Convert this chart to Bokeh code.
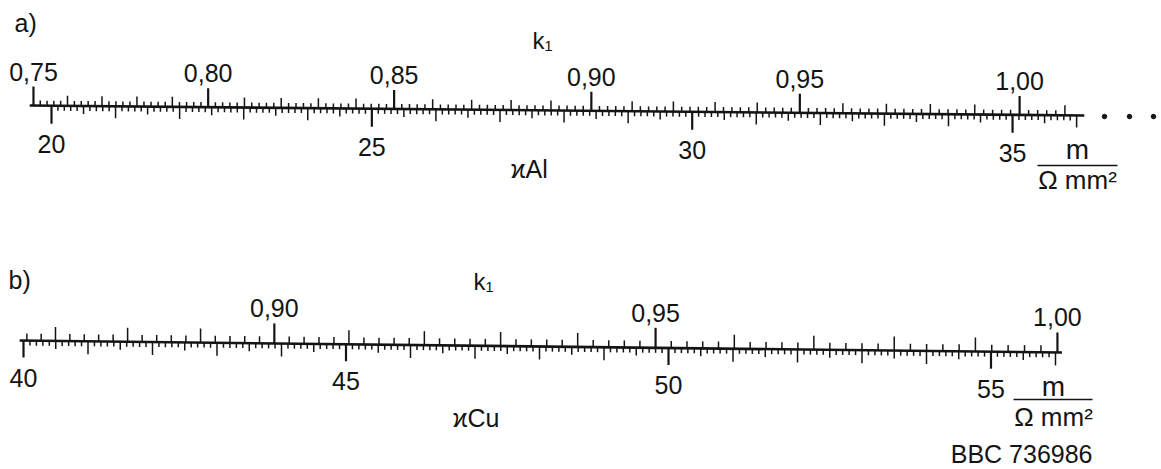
import numpy as np
from bokeh.plotting import figure
from bokeh.models import Range1d, ColumnDataSource, Label
from bokeh.core.properties import value
from bokeh.embed import file_html
from bokeh.resources import INLINE

# ---------------- data ----------------
# a) aluminium: conductivity scale (m / (Ohm mm^2)) and factor k1
AL_KAPPA_LABELS = [20, 25, 30, 35]
AL_KAPPA_TICK_SPAN = (20.0, 36.0)       # ticks every 0.1
AL_LINE_SPAN = (19.66, 36.12)
AL_K1_VALUES = [0.75, 0.80, 0.85, 0.90, 0.95, 1.00]
AL_K1_LABELS = ["0,75", "0,80", "0,85", "0,90", "0,95", "1,00"]
AL_K1_TICK_SPAN = (0.750, 1.010)        # ticks every 0.002
AL_CAL = (35.18, -0.07)                 # kappa = A * k1^2 + B

# b) copper
CU_KAPPA_LABELS = [40, 45, 50, 55]
CU_KAPPA_TICK_SPAN = (40.0, 56.0)
CU_LINE_SPAN = (39.94, 56.10)
CU_K1_VALUES = [0.90, 0.95, 1.00]
CU_K1_LABELS = ["0,90", "0,95", "1,00"]
CU_K1_TICK_SPAN = (0.866, 1.000)
CU_CAL = (63.9, -7.87)

FONT = "Liberation Sans"
INK = "#141414"
TDY = -9   # text baseline correction

W, H = 1160, 468
p = figure(width=W, height=H, output_backend="svg", toolbar_location=None,
           x_range=Range1d(0, W), y_range=Range1d(H, 0),
           x_axis_location=None, y_axis_location=None, min_border=0)
p.extra_x_ranges = {
    "al": Range1d(20 + (0 - 51) / 64.07, 20 + (W - 51) / 64.07),
    "cu": Range1d(40 + (0 - 23) / 64.5, 40 + (W - 23) / 64.5),
}
p.grid.visible = False
p.outline_line_color = None
p.background_fill_color = "white"
p.border_fill_color = "white"


def k1_to_kappa(k1, cal):
    a, b = cal
    return a * np.asarray(k1, dtype=float) ** 2 + b


def draw_scale(rng, base, line_span, kappa_span, kappa_labels, k1_span, k1_vals,
               k1_labels, cal, top_len, bot_len, top_off, bot_off):
    y0_, k0_, slope = base           # scale line position (slightly slanted, as scanned)

    def yl(k):
        return y0_ + slope * (np.asarray(k, dtype=float) - k0_)

    # main scale line
    lx = np.array(line_span, dtype=float)
    p.line(x=lx, y=yl(lx), x_range_name=rng, line_color=INK, line_width=2.6)

    # conductivity ticks (below)
    t = np.arange(int(round(kappa_span[0] * 10)), int(round(kappa_span[1] * 10)) + 1)
    kx = t / 10.0
    ln = np.where(t % 50 == 0, bot_len[0],
                  np.where(t % 10 == 0, bot_len[1],
                           np.where(t % 5 == 0, bot_len[2], bot_len[3])))
    lw = np.where(t % 50 == 0, 2.2, 1.5)
    src = ColumnDataSource(dict(x=kx, y0=yl(kx), y1=yl(kx) + ln, lw=lw))
    p.segment(x0="x", y0="y0", x1="x", y1="y1", source=src, x_range_name=rng,
              line_color=INK, line_width="lw")

    # k1 ticks (above)
    m = np.arange(int(round(k1_span[0] * 1000)), int(round(k1_span[1] * 1000)) + 1, 2)
    mx = k1_to_kappa(m / 1000.0, cal)
    ln2 = np.where(m % 50 == 0, top_len[0],
                   np.where(m % 10 == 0, top_len[1], top_len[2]))
    lw2 = np.where(m % 50 == 0, 2.2, 1.5)
    src2 = ColumnDataSource(dict(x=mx, y0=yl(mx), y1=yl(mx) - ln2, lw=lw2))
    p.segment(x0="x", y0="y0", x1="x", y1="y1", source=src2, x_range_name=rng,
              line_color=INK, line_width="lw")

    # labels
    kl = np.array(kappa_labels, dtype=float)
    p.text(x=kl, y=yl(kl) + bot_off + TDY,
           text=[str(v) for v in kappa_labels], x_range_name=rng,
           text_align="center", text_baseline="alphabetic",
           text_font=value(FONT), text_font_size="25px", text_color=INK)
    k1x = k1_to_kappa(k1_vals, cal)
    p.text(x=k1x, y=yl(k1x) - top_off + TDY,
           text=k1_labels, x_range_name=rng,
           text_align="center", text_baseline="alphabetic",
           text_font=value(FONT), text_font_size="25px", text_color=INK)


draw_scale("al", (105.0, 19.67, 0.61), AL_LINE_SPAN, AL_KAPPA_TICK_SPAN, AL_KAPPA_LABELS,
           AL_K1_TICK_SPAN, AL_K1_VALUES, AL_K1_LABELS, AL_CAL,
           top_len=(19, 10, 5), bot_len=(18, 12, 8, 5), top_off=25, bot_off=47)
draw_scale("cu", (340.0, 39.95, 0.744), CU_LINE_SPAN, CU_KAPPA_TICK_SPAN, CU_KAPPA_LABELS,
           CU_K1_TICK_SPAN, CU_K1_VALUES, CU_K1_LABELS, CU_CAL,
           top_len=(20, 14, 7), bot_len=(17, 13, 8, 5), top_off=26, bot_off=46)


def label(x, y, text, size, align="left"):
    p.add_layout(Label(x=x, y=y + TDY, text=text, text_font=FONT,
                       text_font_size=size, text_align=align,
                       text_baseline="alphabetic", text_color=INK))


# panel a annotations
label(14, 31, "a)", "25px")
label(532, 49, "k₁", "24px")
label(510, 177, "ϰAl", "25px")
label(1077, 158, "m", "28px", "center")
label(1077, 188, "Ω mm²", "26px", "center")
p.segment(x0=[1037], y0=[165], x1=[1117], y1=[165], line_color=INK, line_width=1.6)
p.scatter(x=[1104, 1129, 1153], y=[116, 116, 116], size=4.5, color=INK)

# panel b annotations
label(8, 288, "b)", "25px")
label(473, 290, "k₁", "24px")
label(452, 426, "ϰCu", "25px")
label(1053, 395, "m", "28px", "center")
label(1053, 425, "Ω mm²", "26px", "center")
p.segment(x0=[1013], y0=[399], x1=[1092], y1=[399], line_color=INK, line_width=1.6)
label(1092, 462, "BBC 736986", "25px", "right")

open("out.html", "w").write(file_html(p, INLINE))
